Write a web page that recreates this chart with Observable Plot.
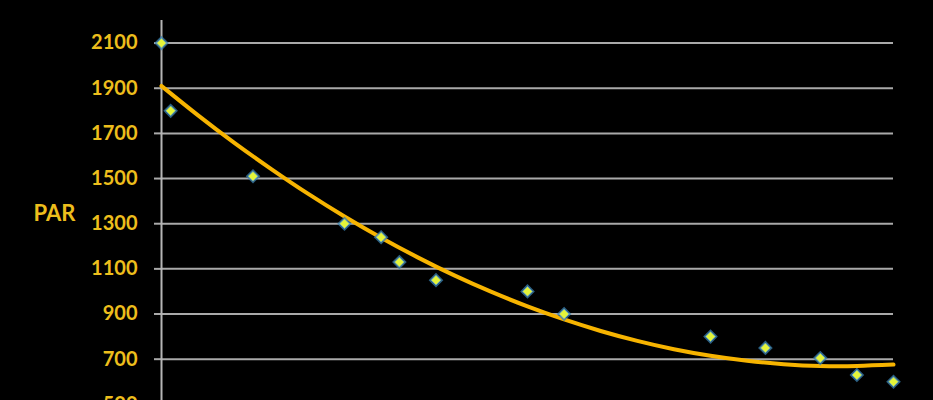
<!DOCTYPE html>
<html>
<head>
<meta charset="utf-8">
<script src="https://cdn.jsdelivr.net/npm/d3@7"></script>
<script src="https://cdn.jsdelivr.net/npm/@observablehq/plot@0.6"></script>
<style>
  html, body { margin: 0; padding: 0; background: #000; overflow: hidden; }
  #chart { width: 933px; height: 400px; overflow: hidden; }
</style>
</head>
<body>
<div id="chart"></div>
<script>
// Measured points (depth vs PAR)
const depth = [0, 0.5, 5, 10, 12, 13, 15, 20, 22, 30, 33, 36, 38, 40];
const par   = [2100, 1800, 1510, 1300, 1240, 1130, 1050, 1000, 900, 800, 750, 705, 630, 600];

// Trend line
const trendX = [0, 2, 4, 6, 8, 10, 12, 14, 16, 18, 20, 22, 24, 26, 28, 30, 32, 34, 36, 38, 40];
const trendY = [1910, 1780, 1657, 1542, 1433, 1332, 1238, 1151, 1071, 999, 934, 876, 825, 781, 744, 715, 693, 678, 670, 670, 676];

// Axis ticks
const yTicks = [500, 700, 900, 1100, 1300, 1500, 1700, 1900, 2100];
const yLabel = "PAR";

const points = depth.map((d, i) => ({depth: d, par: par[i]}));
const trend = trendX.map((d, i) => ({depth: d, par: trendY[i]}));

const gold = "#EDBE1C";
const font = "Lato, 'Open Sans', sans-serif";

const chart = Plot.plot({
  width: 933,
  height: 449,
  marginLeft: 161,
  marginRight: 40,
  marginTop: 20,
  marginBottom: 0,
  style: {background: "#000", color: gold, fontFamily: font, fontSize: "20px", fontWeight: "bold"},
  x: {domain: [0, 40], axis: null},
  y: {domain: [300, 2200]},
  marks: [
    Plot.gridY(yTicks, {stroke: "#a9a9a9", strokeOpacity: 1, strokeWidth: 2}),
    Plot.axisY(yTicks, {tickSize: 7, tickPadding: 17, stroke: "#a9a9a9", strokeWidth: 2, fill: gold, label: null, tickFormat: d => String(d)}),
    Plot.ruleX([0], {y1: 300, y2: 2200, stroke: "#b5b5b5", strokeWidth: 2}),
    Plot.text([yLabel], {frameAnchor: "left", dx: -128, dy: -21, textAnchor: "start", fill: gold, fontSize: 22, fontWeight: "bold"}),
    Plot.line(trend, {x: "depth", y: "par", stroke: "#F7B400", strokeWidth: 4, curve: "natural"}),
    Plot.dot(points, {x: "depth", y: "par", symbol: "diamond2", r: 6.6, fill: "#3a80b0", fillOpacity: 0.75}),
    Plot.dot(points, {x: "depth", y: "par", symbol: "diamond2", r: 4.4, fill: "#E4F53A", stroke: "#6aa8c8", strokeWidth: 0.8})
  ]
});
document.getElementById("chart").append(chart);
</script>
</body>
</html>
